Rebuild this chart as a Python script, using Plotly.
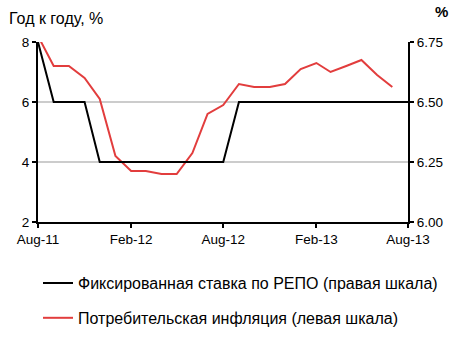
import plotly.graph_objects as go
import pandas as pd

months = pd.date_range("2011-08-01", "2013-08-01", freq="MS")
cpi_dates = months[:24]
cpi = [8.2, 7.2, 7.2, 6.8, 6.1, 4.2, 3.7, 3.7, 3.6, 3.6, 4.3, 5.6,
       5.9, 6.6, 6.5, 6.5, 6.6, 7.1, 7.3, 7.0, 7.2, 7.4, 6.9, 6.5]
repo_dates = months
repo = [6.75, 6.5, 6.5, 6.5, 6.25, 6.25, 6.25, 6.25, 6.25, 6.25, 6.25, 6.25,
        6.25, 6.5, 6.5, 6.5, 6.5, 6.5, 6.5, 6.5, 6.5, 6.5, 6.5, 6.5, 6.5]
left_ticks = [2, 4, 6, 8]
right_ticks = [6.00, 6.25, 6.50, 6.75]
right_labels = ["6.00", "6.25", "6.50", "6.75"]
x_ticks = ["2011-08-01", "2012-02-01", "2012-08-01", "2013-02-01", "2013-08-01"]
x_labels = ["Aug-11", "Feb-12", "Aug-12", "Feb-13", "Aug-13"]

FONT = "Liberation Sans, Arial, sans-serif"
RED = "#E23D3D"

fig = go.Figure()
fig.add_trace(go.Scatter(
    x=repo_dates, y=repo, yaxis="y2", mode="lines",
    line=dict(color="black", width=2),
    name="Фиксированная ставка по РЕПО (правая шкала)",
    legendgroup="a"))
fig.add_trace(go.Scatter(
    x=cpi_dates, y=cpi, mode="lines",
    line=dict(color=RED, width=2),
    name="Потребительская инфляция (левая шкала)",
    legendgroup="b"))

fig.update_layout(
    width=456, height=351,
    margin=dict(l=38, r=48, t=42, b=129),
    paper_bgcolor="white", plot_bgcolor="white",
    font=dict(family=FONT, size=13, color="black"),
    showlegend=True,
    legend=dict(x=0.0, y=-0.245, xanchor="left", yanchor="top",
                orientation="v", tracegroupgap=11, traceorder="grouped",
                font=dict(size=16), bgcolor="rgba(0,0,0,0)"),
    xaxis=dict(type="date", range=["2011-08-01", "2013-08-01"],
               tickvals=x_ticks, ticktext=x_labels,
               showline=True, linecolor="black", linewidth=2,
               ticks="outside", ticklen=4, tickcolor="black", tickwidth=2,
               showgrid=False, zeroline=False,
               tickfont=dict(size=13.5)),
    yaxis=dict(range=[2, 8], tickvals=left_ticks,
               showline=True, linecolor="black", linewidth=2,
               ticks="outside", ticklen=4, tickcolor="black", tickwidth=2,
               showgrid=True, gridcolor="#CCCCCC", gridwidth=2,
               zeroline=False, tickfont=dict(size=13.5)),
    yaxis2=dict(range=[6.0, 6.75], tickvals=right_ticks, ticktext=right_labels,
                overlaying="y", side="right",
                showline=True, linecolor="black", linewidth=2,
                ticks="outside", ticklen=4, tickcolor="black", tickwidth=2,
                showgrid=False, zeroline=False, tickfont=dict(size=13.5)),
    annotations=[
        dict(text="Год к году, %", xref="paper", yref="paper",
             x=-0.083, y=1.0, xanchor="left", yanchor="bottom", yshift=13,
             showarrow=False, font=dict(size=16)),
        dict(text="<b>%</b>", xref="paper", yref="paper",
             x=1.0, y=1.0, xanchor="left", yanchor="bottom", xshift=25, yshift=20,
             showarrow=False, font=dict(size=15)),
    ],
)

fig.write_html("out.html")
